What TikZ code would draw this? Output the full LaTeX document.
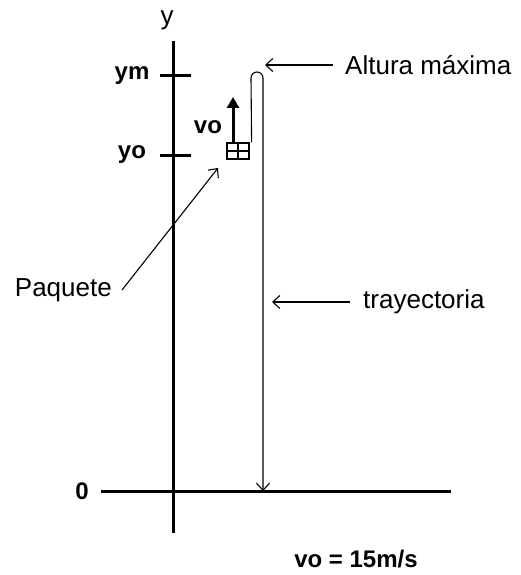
\documentclass[tikz,border=0pt]{standalone}
\usepackage{fontspec}
\setmainfont{Liberation Sans}
\usetikzlibrary{arrows.meta}
\tikzset{
  axis line/.style={line width=3pt},      % thick axes and ticks
  thin arrow/.style={
    -{Straight Barb[length=7pt,width=13pt]},
    line width=1.1pt,
  },
  plain label/.style={font=\fontsize{26}{30}\selectfont, inner sep=0pt},
  bold label/.style={font=\fontsize{24}{28}\selectfont\bfseries, inner sep=0pt},
}

\begin{document}
\begin{tikzpicture}[x=1pt, y=-1pt]
    \useasboundingbox (0,0) rectangle (520,575);

    % Axes
    \coordinate (ytop) at (173,41);
    \coordinate (ybot) at (173,533);
    \coordinate (gleft) at (101,491);
    \coordinate (gright) at (451,491);
    \draw[axis line] (ytop) -- (ybot);
    \draw[axis line] (gleft) -- (gright);
    \node[plain label] (ylab) at (167,20) {y};
    \node[bold label] (zero) at (82,491) {0};

    % Ticks on the y axis
    \foreach \yy/\lab in {76/ym, 155/yo} {
      \draw[axis line] (160,\yy) -- (191,\yy);
      \node[bold label] (\lab) at (132,\yy) {\lab};
    }

    % Package with its initial velocity
    \node[draw, line width=1.2pt, minimum width=22pt, minimum height=16pt,
          inner sep=0pt] (paq) at (238,151) {};
    \draw[line width=1.1pt] (paq.north) -- (paq.south);
    \draw[line width=1.1pt] (paq.west) -- (paq.east);
    \coordinate (votip) at (233,97);
    \draw[line width=3pt, -{Triangle[length=11pt,width=12pt]}]
      ([xshift=-5pt]paq.north) -- (votip);
    \node[bold label] (vo) at (208,127) {vo};

    % Trajectory: up, over the top, down to the ground
    \coordinate (suelo) at (263,491);
    \draw[thin arrow] ([xshift=2pt]paq.north east) -- (251,78)
      arc[start angle=180, end angle=360, radius=6] -- (suelo);

    % Labels with pointers
    \node[plain label, anchor=west] (altura) at (345,65) {Altura máxima};
    \coordinate (cima) at (265,65);
    \draw[thin arrow] (altura.west) ++(-12pt,0) -- (cima);

    \node[plain label, anchor=west] (tray) at (363,302) {trayectoria};
    \coordinate (trayp) at (272,302);
    \draw[thin arrow] (tray.west) ++(-13pt,0) -- (trayp);

    \node[plain label, anchor=east] (paquete) at (112,290) {Paquete};
    \coordinate (paqp) at (218,168);
    \draw[thin arrow] (paquete.east) ++(10pt,0) -- (paqp);

    % Data
    \node[bold label] (dato) at (356,559) {vo = 15m/s};
\end{tikzpicture}
\end{document}
